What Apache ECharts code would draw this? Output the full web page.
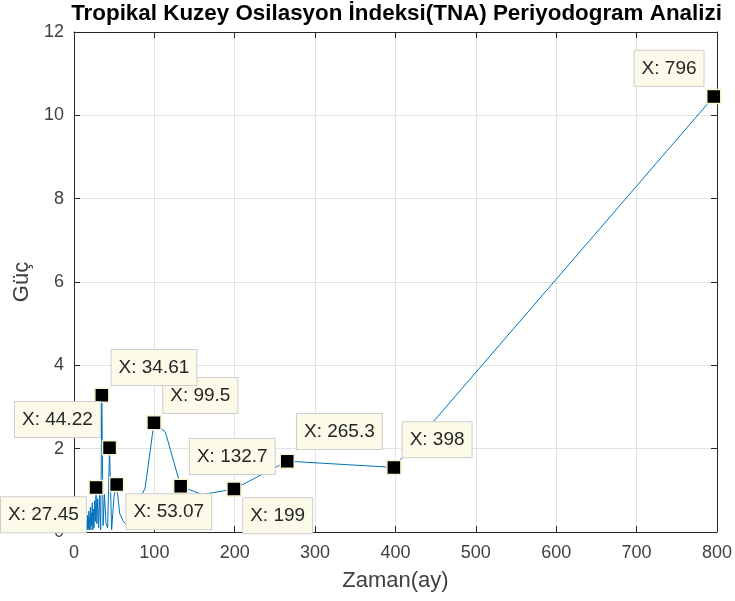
<!DOCTYPE html>
<html><head><meta charset="utf-8">
<script src="https://cdn.jsdelivr.net/npm/echarts@6/dist/echarts.min.js"></script>
<style>html,body{margin:0;padding:0;background:#fff}#c{width:735px;height:601px}</style>
</head><body><div id="c"></div>
<script>
// Period (months) and power of the periodogram
const periods = [796, 398, 265.3, 199, 159.2, 132.7, 113.7, 99.5, 88.44, 79.6, 72.36, 66.33, 61.23, 56.86, 53.07,
  49.75, 46.82, 44.22, 41.89, 39.8, 37.9, 36.18, 34.61, 33.17, 31.84, 30.62, 29.48, 28.43, 27.45,
  26.53, 25.68, 24.88, 24.12, 23.41, 22.74, 22.11, 21.51, 20.95, 20.41, 19.9, 19.41, 18.95, 18.51,
  18.09, 17.69, 17.3, 16.94, 16.58, 16.24, 15.92, 14.47, 13.27, 11.37, 9.95, 7.96, 6.12, 4.98,
  3.98, 3.06, 2.41, 2.0];
const powers = [10.45, 1.55, 1.70, 1.03, 0.90, 1.10, 2.40, 2.62, 1.05, 0.70, 0.20, 0.15, 0.26, 0.44, 1.14,
  0.85, 0.05, 2.02, 0.10, 0.20, 0.90, 0.15, 3.28, 0.05, 0.90, 0.10, 0.80, 0.20, 1.07,
  0.25, 0.75, 0.10, 0.55, 0.05, 0.70, 0.15, 0.45, 0.05, 0.60, 0.20, 0.35, 0.05, 0.50,
  0.10, 0.30, 0.05, 0.40, 0.10, 0.25, 0.05, 0.30, 0.20, 0.15, 0.10, 0.05, 0.10, 0.05,
  0.03, 0.02, 0.02, 0.01];
// Data tips (periods marked on the chart)
const tipPeriods = [796, 398, 265.3, 199, 132.7, 99.5, 53.07, 44.22, 34.61, 27.45];
// Tick values
const xTicks = [0, 100, 200, 300, 400, 500, 600, 700, 800];
const yTicks = [0, 2, 4, 6, 8, 10, 12];
const titleText = 'Tropikal Kuzey Osilasyon İndeksi(TNA) Periyodogram Analizi';
const xName = 'Zaman(ay)';
const yName = 'Güç';

// Layout of the data-tip boxes relative to their markers (style only)
const tipLabelLayout = [
  {pos: [-2.5, -38], align: 'right'},
  {pos: [16.5, -37.5], align: 'left'},
  {pos: [17.5, -39.5], align: 'left'},
  {pos: [17, 17], align: 'left'},
  {pos: [17, -39.5], align: 'left'},
  {pos: [17, -37], align: 'left'},
  {pos: [17.5, 17.5], align: 'left'},
  {pos: [-2, -38], align: 'right'},
  {pos: [17.5, -37.5], align: 'left'},
  {pos: [-2.5, 17.5], align: 'right'}
];

const FONT = 'Liberation Sans, Arial, Helvetica, sans-serif';
const AX = '#262626';
const GRIDC = '#e3e3e3';

const lineData = periods.map((p, i) => [p, powers[i]]);
const tipData = tipPeriods.map((p, i) => {
  const v = powers[periods.indexOf(p)];
  const L = tipLabelLayout[i];
  return {
    value: [p, v],
    label: {position: L.pos, align: L.align, verticalAlign: 'top', formatter: 'X: ' + p}
  };
});

const xMin = xTicks[0], xMax = xTicks[xTicks.length - 1], xInt = xTicks[1] - xTicks[0];
const yMin = yTicks[0], yMax = yTicks[yTicks.length - 1], yInt = yTicks[1] - yTicks[0];

const chart = echarts.init(document.getElementById('c'), null, {renderer: 'canvas'});
chart.setOption({
  animation: false,
  backgroundColor: '#fff',
  grid: {left: 74, right: 16, top: 32, bottom: 69, containLabel: false},
  graphic: [{
    type: 'text', x: 396.5, y: 13.5,
    style: {text: titleText, textAlign: 'center', textVerticalAlign: 'middle',
      font: 'bold 22.4px ' + FONT, fill: '#000'}
  }],
  xAxis: [{
    type: 'value', min: xMin, max: xMax, interval: xInt, position: 'bottom',
    name: xName, nameLocation: 'middle', nameGap: 38,
    nameTextStyle: {fontSize: 22, fontFamily: FONT, color: '#404040'},
    axisLine: {show: true, lineStyle: {color: AX, width: 1}},
    axisTick: {show: true, inside: true, length: 6, lineStyle: {color: AX}},
    axisLabel: {show: true, margin: 12, fontSize: 18, fontFamily: FONT, color: '#404040'},
    splitLine: {show: true, lineStyle: {color: GRIDC, width: 1}}
  }, {
    type: 'value', min: xMin, max: xMax, interval: xInt, position: 'top',
    axisLine: {show: true, onZero: false, lineStyle: {color: AX, width: 1}},
    axisTick: {show: true, inside: true, length: 6, lineStyle: {color: AX}},
    axisLabel: {show: false}, splitLine: {show: false}
  }],
  yAxis: [{
    type: 'value', min: yMin, max: yMax, interval: yInt, position: 'left',
    name: yName, nameLocation: 'middle', nameGap: 38,
    nameTextStyle: {fontSize: 22, fontFamily: FONT, color: '#404040'},
    axisLine: {show: true, onZero: false, lineStyle: {color: AX, width: 1}},
    axisTick: {show: true, inside: true, length: 6, lineStyle: {color: AX}},
    axisLabel: {show: true, margin: 10, fontSize: 18, fontFamily: FONT, color: '#404040'},
    splitLine: {show: true, lineStyle: {color: GRIDC, width: 1}}
  }, {
    type: 'value', min: yMin, max: yMax, interval: yInt, position: 'right',
    axisLine: {show: true, onZero: false, lineStyle: {color: AX, width: 1}},
    axisTick: {show: true, inside: true, length: 6, lineStyle: {color: AX}},
    axisLabel: {show: false}, splitLine: {show: false}
  }],
  series: [{
    type: 'line', xAxisIndex: 0, yAxisIndex: 0, data: lineData,
    showSymbol: false, symbol: 'none',
    lineStyle: {color: '#0072BD', width: 1}, z: 2
  }, {
    type: 'scatter', xAxisIndex: 0, yAxisIndex: 0, data: tipData,
    symbol: 'rect', symbolSize: 14, z: 5,
    itemStyle: {color: '#000', borderColor: '#f7f3cf', borderWidth: 1.5, opacity: 1},
    label: {show: true, fontSize: 19, fontFamily: FONT, color: '#262626',
      backgroundColor: '#fcfbe9', borderColor: '#cdcdcd', borderWidth: 1,
      padding: [8, 7, 8, 7], lineHeight: 19},
    emphasis: {disabled: true}
  }]
});
</script>
</body></html>
